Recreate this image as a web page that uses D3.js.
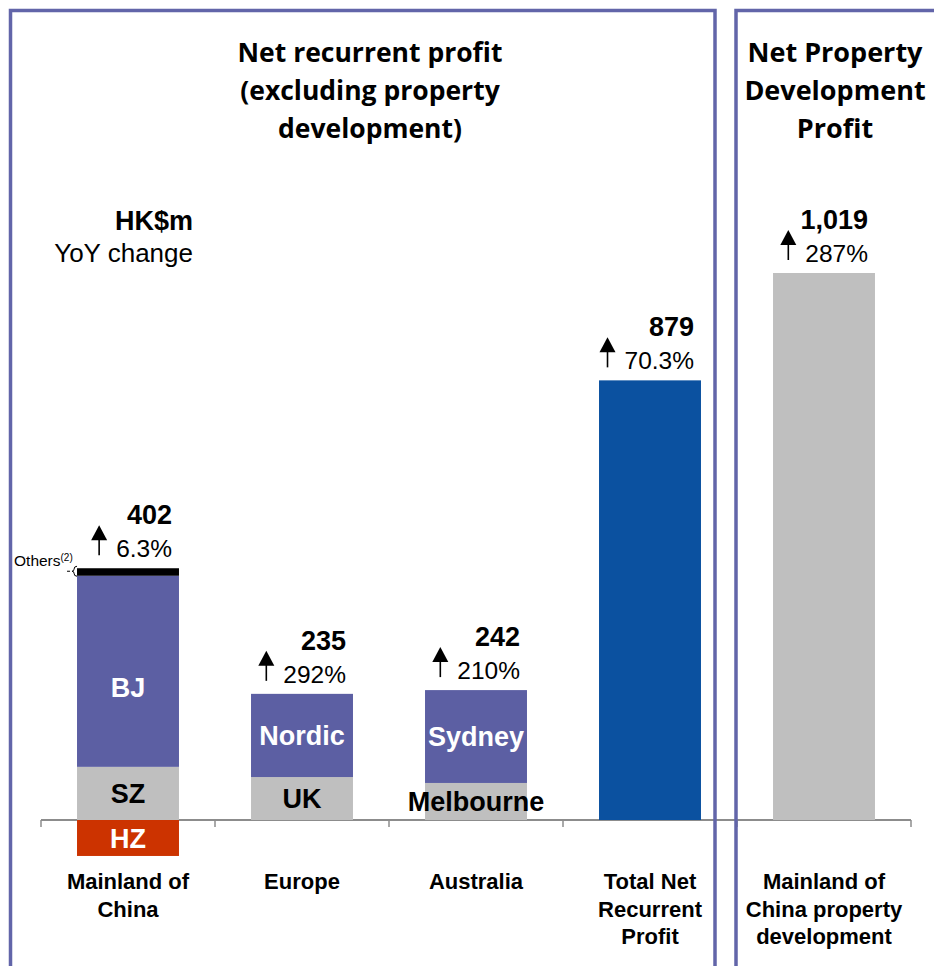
<!DOCTYPE html>
<html>
<head>
<meta charset="utf-8">
<script src="https://cdn.jsdelivr.net/npm/d3@7"></script>
<style>
  body { margin: 0; background: #fff; }
  svg { display: block; }
  text { font-family: 'Liberation Sans', Arial, sans-serif; }
  .title { font-family: 'Open Sans', 'Noto Sans', sans-serif; font-weight: bold; }
</style>
</head>
<body>
<div id="chart"></div>
<script>
// Data (HK$m)
const categories = ['Mainland of China', 'Europe', 'Australia', 'Total Net Recurrent Profit', 'Mainland of China property development']
const categoryLines = [['Mainland of', 'China'], ['Europe'], ['Australia'], ['Total Net', 'Recurrent', 'Profit'], ['Mainland of', 'China property', 'development']]
const segmentNames = [['HZ', 'SZ', 'BJ', 'Others'], ['UK', 'Nordic'], ['Melbourne', 'Sydney'], ['Total'], ['Property']]
const segmentValues = [[-67, 99, 356, 14], [80, 155], [69, 173], [819], [1019]]
const totalLabels = ['402', '235', '242', '879', '1,019']
const yoyLabels = ['6.3%', '292%', '210%', '70.3%', '287%']
const leftTitle = ['Net recurrent profit', '(excluding property', 'development)']
const rightTitle = ['Net Property', 'Development', 'Profit']

// colours for each segment
var segColor = {
  HZ: '#cc3300', SZ: '#bfbfbf', BJ: '#5c5fa3', Others: '#000000',
  UK: '#bfbfbf', Nordic: '#5c5fa3', Melbourne: '#bfbfbf', Sydney: '#5c5fa3',
  Total: '#0b51a0', Property: '#bfbfbf'
}
var segTextColor = { HZ: '#fff', SZ: '#000', BJ: '#fff', UK: '#000', Nordic: '#fff', Melbourne: '#000', Sydney: '#fff' }
var border = '#6265a9'

var width = 934
var height = 966

var svg = d3.select('#chart')
  .append('svg')
  .attr('width', width)
  .attr('height', height)

// scales
var xScale = d3.scaleBand()
  .domain(categories)
  .range([41, 911])
  .padding(0)
var barWidth = xScale.bandwidth() * 0.586

var yScale = d3.scaleLinear()
  .domain([0, 1019])
  .range([820, 273])

// axis line with ticks at band edges
var axis = d3.axisBottom(xScale).tickSize(0).tickFormat('')
svg.append('g')
  .attr('transform', 'translate(0,' + yScale(0) + ')')
  .call(axis)
  .call(g => g.select('.domain').attr('stroke', '#8c8c8c').attr('stroke-width', 2).attr('d', 'M41,0H911'))
var edges = categories.map(c => xScale(c)).concat([xScale(categories[categories.length - 1]) + xScale.bandwidth()])
svg.append('g')
  .selectAll('line')
  .data(edges)
  .enter()
  .append('line')
  .attr('x1', d => d)
  .attr('x2', d => d)
  .attr('y1', yScale(0))
  .attr('y2', yScale(0) + 7)
  .attr('stroke', '#8c8c8c')
  .attr('stroke-width', 1.5)

// build the stacked segments
var segments = []
var tops = []
categories.forEach(function(cat, i) {
  var pos = 0
  var neg = 0
  segmentValues[i].forEach(function(v, j) {
    var y0, y1
    if (v >= 0) { y0 = pos; y1 = pos + v; pos = y1 } else { y0 = neg + v; y1 = neg; neg = y0 }
    segments.push({ cat: cat, name: segmentNames[i][j], y0: y0, y1: y1 })
  })
  tops.push(pos)
})

var bx = d => xScale(d) + (xScale.bandwidth() - barWidth) / 2

svg.append('g')
  .selectAll('rect')
  .data(segments)
  .enter()
  .append('rect')
  .attr('x', d => bx(d.cat))
  .attr('width', barWidth)
  .attr('y', d => yScale(d.y1))
  .attr('height', d => yScale(d.y0) - yScale(d.y1))
  .attr('fill', d => segColor[d.name])

// segment labels (BJ sits a little low in the original)
svg.append('g')
  .selectAll('text')
  .data(segments.filter(d => segTextColor[d.name]))
  .enter()
  .append('text')
  .text(d => d.name)
  .attr('x', d => bx(d.cat) + barWidth / 2)
  .attr('y', d => (yScale(d.y0) + yScale(d.y1)) / 2 + (d.name === 'BJ' ? 16 : 0))
  .attr('dy', '0.36em')
  .attr('text-anchor', 'middle')
  .attr('font-size', 27)
  .attr('font-weight', 'bold')
  .attr('fill', d => segTextColor[d.name])

// totals, yoy change and arrows
categories.forEach(function(cat, i) {
  var top = yScale(tops[i])
  var right = bx(cat) + barWidth - 7
  svg.append('text')
    .text(totalLabels[i])
    .attr('x', right)
    .attr('y', top - 44)
    .attr('text-anchor', 'end')
    .attr('font-size', 27)
    .attr('font-weight', 'bold')
  var pct = svg.append('text')
    .text(yoyLabels[i])
    .attr('x', right)
    .attr('y', top - 11)
    .attr('text-anchor', 'end')
    .attr('font-size', 24.5)
  var ax = right - pct.node().getComputedTextLength() - 17
  svg.append('path')
    .attr('d', 'M' + ax + ',' + (top - 43) + 'l8,15h-16z')
    .attr('fill', '#000')
  svg.append('line')
    .attr('x1', ax).attr('x2', ax)
    .attr('y1', top - 29).attr('y2', top - 13)
    .attr('stroke', '#000')
    .attr('stroke-width', 1.6)

  // category labels
  svg.append('text')
    .attr('text-anchor', 'middle')
    .attr('font-size', 22)
    .attr('font-weight', 'bold')
    .selectAll('tspan')
    .data(categoryLines[i])
    .enter()
    .append('tspan')
    .attr('x', xScale(cat) + xScale.bandwidth() / 2)
    .attr('y', (d, k) => 889 + k * 27.5)
    .text(d => d)
})

// Others annotation
var othersTop = yScale(tops[0])
var ox = bx(categories[0])
svg.append('text')
  .attr('x', ox - 63)
  .attr('y', othersTop - 2)
  .attr('font-size', 15.5)
  .text('Others')
  .append('tspan')
  .attr('font-size', 10)
  .attr('dy', -5)
  .text('(2)')
svg.append('path')
  .attr('d', 'M' + (ox - 10) + ',' + (othersTop + 3) + 'h3 M' + (ox) + ',' + (othersTop - 2) + 'q-3,0 -3,3 q0,2 -2,2 q2,0 2,2 q0,3 3,3')
  .attr('fill', 'none')
  .attr('stroke', '#000')
  .attr('stroke-width', 1)

// unit labels
svg.append('text')
  .attr('x', 193).attr('y', 230)
  .attr('text-anchor', 'end')
  .attr('font-size', 27)
  .attr('font-weight', 'bold')
  .text('HK$m')
svg.append('text')
  .attr('x', 193).attr('y', 262)
  .attr('text-anchor', 'end')
  .attr('font-size', 26)
  .text('YoY change')

// titles
svg.append('text')
  .attr('class', 'title')
  .attr('text-anchor', 'middle')
  .attr('font-size', 26.5)
  .selectAll('tspan')
  .data(leftTitle)
  .enter()
  .append('tspan')
  .attr('x', 370)
  .attr('y', (d, k) => 62 + k * 38)
  .text(d => d)

svg.append('text')
  .attr('class', 'title')
  .attr('text-anchor', 'middle')
  .attr('font-size', 27)
  .selectAll('tspan')
  .data(rightTitle)
  .enter()
  .append('tspan')
  .attr('x', 835)
  .attr('y', (d, k) => 62 + k * 38)
  .text(d => d)

// panel borders
svg.append('rect')
  .attr('x', 10.5).attr('y', 10.5)
  .attr('width', 704.5).attr('height', 1000)
  .attr('fill', 'none')
  .attr('stroke', border)
  .attr('stroke-width', 3.5)
svg.append('rect')
  .attr('x', 736).attr('y', 10.5)
  .attr('width', 300).attr('height', 1000)
  .attr('fill', 'none')
  .attr('stroke', border)
  .attr('stroke-width', 3.5)
</script>
</body>
</html>
